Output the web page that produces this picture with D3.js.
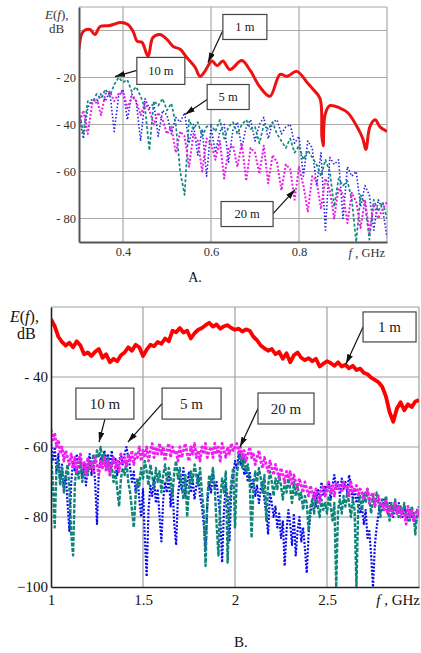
<!DOCTYPE html>
<html lang="en">
<head>
<meta charset="utf-8">
<title>E(f) spectra</title>
<script src="https://d3js.org/d3.v7.min.js"></script>
<style>
  body { margin: 0; background: #fff; }
  svg text { font-family: "Liberation Serif", "DejaVu Serif", serif; }
</style>
</head>
<body>
<script>
// ---- panel A : 0.3 .. 1.0 GHz, samples every 0.01 GHz ----
var freqA = d3.range(71).map(function(i) { return +(0.30 + i * 0.01).toFixed(2); });

var red1mA = [
  [0.300, -8], [0.309, -0.5], [0.325, 0.4], [0.336, -1.7], [0.348, 1.7], [0.370, 2.1],
  [0.382, 2.8], [0.393, 3.4], [0.411, 2.6], [0.423, -0.4], [0.432, -4.5], [0.443, -5],
  [0.457, -11], [0.468, -3], [0.484, -1.7], [0.500, -3.8], [0.514, -6.8], [0.530, -8],
  [0.545, -11.5], [0.564, -15.7], [0.575, -19.5], [0.586, -17.4], [0.602, -13], [0.614, -15],
  [0.627, -13], [0.643, -16.6], [0.670, -12.8], [0.689, -17], [0.711, -24], [0.734, -28],
  [0.757, -18.7], [0.773, -19.5], [0.795, -17.4], [0.818, -22], [0.832, -25], [0.848, -29],
  [0.852, -45], [0.855, -49], [0.859, -36], [0.870, -32], [0.893, -33], [0.911, -35],
  [0.932, -41], [0.945, -46], [0.952, -50.6], [0.961, -41], [0.973, -38], [0.984, -41],
  [1.000, -43]
];
var teal10mA = [
  -34, -44, -30, -31, -27, -29, -25, -28, -23, -20,
  -22, -21, -26, -24, -28, -33, -51, -30, -32, -29,
  -34, -31, -40, -60, -70, -38, -42, -39, -45, -41,
  -40, -43, -38, -46, -41, -39, -44, -40, -38, -42,
  -41, -48, -40, -42, -39, -44, -47, -50, -46, -52,
  -49, -55, -51, -54, -57, -62, -55, -60, -75, -63,
  -66, -64, -72, -90, -70, -74, -89, -72, -77, -73,
  -80
];
var blue5mA = [
  -36, -46, -33, -29, -31, -27, -30, -26, -43, -28,
  -25, -38, -27, -30, -47, -29, -33, -31, -45, -34,
  -36, -44, -37, -39, -35, -48, -40, -53, -42, -62,
  -41, -52, -43, -40, -56, -42, -39, -50, -41, -38,
  -47, -40, -37, -46, -39, -38, -44, -41, -40, -48,
  -45, -62, -47, -50, -66, -52, -85, -54, -57, -55,
  -80, -58, -62, -60, -75, -66, -70, -85, -72, -76,
  -88
];
var mag20mA = [
  -40, -34, -44, -31, -29, -36, -27, -26, -30, -27,
  -26, -33, -28, -30, -36, -31, -34, -40, -35, -38,
  -44, -41, -52, -43, -45, -58, -44, -47, -60, -46,
  -48, -55, -47, -63, -50, -49, -58, -48, -64, -50,
  -52, -61, -49, -65, -53, -56, -68, -57, -59, -72,
  -58, -66, -77, -62, -64, -76, -63, -68, -80, -67,
  -70, -82, -69, -73, -84, -72, -86, -74, -80, -76,
  -73
];
var xTicksA = [0.4, 0.6, 0.8];
var xLabelsA = ["0.4", "0.6", "0.8"];
var yTicksA = [-20, -40, -60, -80];
var yLabelsA = ["- 20", "- 40", "- 60", "- 80"];
var yGridA = [0, -20, -40, -60, -80];

// ---- panel B : 1 .. 3 GHz ----
var freqB = d3.range(201).map(function(i) { return +(1 + i * 0.01).toFixed(2); });
var freqRedB = d3.range(101).map(function(i) { return +(1 + i * 0.02).toFixed(2); });

var red1mB = [
  -23.5, -25.5, -28.5, -30.0, -31.0, -30.2, -31.5, -29.8, -31.0, -33.5,
  -33.0, -34.0, -32.8, -32.0, -34.5, -33.5, -35.8, -34.8, -35.5, -33.8,
  -33.0, -31.5, -32.5, -30.8, -31.5, -34.0, -32.2, -30.8, -31.2, -30.0,
  -30.5, -29.0, -29.8, -26.8, -27.2, -26.0, -27.3, -26.8, -29.0, -27.5,
  -26.5, -26.0, -25.2, -24.5, -25.6, -25.0, -26.2, -25.5, -25.2, -26.0,
  -26.5, -26.2, -27.0, -26.4, -26.8, -28.5, -29.5, -31.0, -31.8, -32.5,
  -32.0, -33.5, -32.8, -34.8, -33.2, -35.8, -33.8, -33.0, -34.5, -35.2,
  -34.6, -35.5, -34.8, -37.0, -36.2, -35.5, -36.0, -36.8, -35.8, -37.0,
  -36.5, -37.5, -36.8, -38.0, -37.6, -38.8, -39.2, -40.2, -40.8, -41.5,
  -42.8, -45.5, -50.0, -52.8, -49.0, -47.2, -49.5, -47.8, -48.6, -47.0,
  -46.6
];
var mag20mB = [
  -55, -58, -56, -60, -58, -62, -60, -64, -61, -63,
  -65, -62, -66, -63, -67, -64, -62, -66, -64, -68,
  -63, -66, -64, -67, -63, -65, -68, -64, -66, -63,
  -67, -64, -68, -65, -63, -66, -64, -67, -62, -65,
  -63, -66, -62, -64, -61, -65, -62, -63, -60, -64,
  -61, -63, -60, -64, -61, -59, -63, -60, -62, -59,
  -62, -60, -64, -61, -59, -63, -60, -62, -61, -64,
  -60, -63, -61, -59, -62, -64, -60, -62, -59, -63,
  -61, -64, -60, -62, -59, -63, -61, -60, -63, -59,
  -62, -60, -64, -59, -61, -63, -60, -62, -59, -61,
  -60, -59, -62, -60, -63, -61, -64, -62, -60, -63,
  -62, -65, -63, -61, -64, -66, -63, -65, -67, -64,
  -66, -68, -65, -67, -69, -66, -68, -70, -67, -69,
  -67, -71, -68, -70, -72, -69, -71, -73, -70, -72,
  -74, -71, -73, -75, -72, -74, -76, -72, -71, -74,
  -72, -70, -73, -71, -74, -70, -72, -71, -73, -70,
  -72, -71, -74, -70, -73, -72, -71, -74, -72, -73,
  -75, -73, -72, -76, -74, -73, -77, -75, -74, -77,
  -76, -78, -75, -79, -77, -80, -78, -76, -79, -77,
  -80, -78, -79, -82, -77, -80, -78, -81, -79, -78,
  -80
];
var teal10mB = [
  -62, -70, -83, -66, -64, -71, -66, -73, -68, -65,
  -72, -85, -91, -70, -66, -69, -64, -70, -67, -65,
  -68, -64, -66, -62, -65, -61, -63, -60, -64, -62,
  -66, -63, -68, -65, -70, -67, -72, -77, -69, -66,
  -68, -64, -70, -73, -78, -83, -74, -69, -71, -66,
  -69, -64, -67, -71, -65, -68, -72, -66, -70, -67,
  -73, -68, -65, -70, -66, -69, -74, -67, -64, -69,
  -66, -71, -75, -68, -80, -72, -67, -70, -65, -68,
  -71, -66, -73, -78, -94, -74, -68, -70, -66, -72,
  -82, -91, -75, -69, -73, -67, -93, -76, -70, -66,
  -83, -68, -64, -62, -66, -63, -67, -65, -70, -86,
  -72, -67, -70, -66, -69, -73, -68, -81, -71, -67,
  -70, -74, -69, -72, -68, -71, -75, -70, -73, -69,
  -72, -76, -70, -74, -71, -75, -73, -78, -74, -76,
  -84, -77, -75, -79, -74, -77, -80, -75, -78, -76,
  -79, -74, -77, -81, -76, -100, -78, -75, -79, -74,
  -77, -73, -76, -80, -75, -78, -100, -76, -74, -78,
  -73, -76, -72, -75, -79, -74, -77, -73, -76, -80,
  -75, -78, -74, -77, -81, -76, -79, -75, -78, -80,
  -77, -79, -76, -80, -78, -81, -77, -79, -85, -78,
  -77
];
var blue5mB = [
  -58, -64, -60, -67, -62, -70, -65, -72, -68, -76,
  -84, -70, -64, -67, -62, -66, -63, -69, -65, -71,
  -66, -62, -68, -64, -70, -82, -67, -63, -65, -61,
  -64, -62, -66, -61, -65, -63, -68, -64, -62, -65,
  -62, -60, -63, -66, -70, -67, -73, -69, -75, -80,
  -72, -86, -97, -78, -71, -74, -69, -76, -72, -80,
  -87, -75, -70, -73, -68, -77, -71, -82, -88, -74,
  -69, -72, -66, -74, -70, -67, -73, -69, -75, -71,
  -68, -74, -77, -82, -89, -76, -70, -73, -67, -72,
  -70, -75, -80, -93, -78, -71, -74, -87, -72, -68,
  -64, -66, -62, -65, -63, -68, -66, -70, -67, -72,
  -69, -74, -71, -76, -72, -70, -75, -79, -85, -73,
  -76, -80, -77, -83, -79, -86, -81, -94, -84, -78,
  -82, -88, -79, -91, -84, -80, -87, -83, -89, -96,
  -85, -79, -76, -73, -77, -72, -75, -70, -74, -71,
  -73, -70, -75, -71, -68, -72, -70, -74, -69, -72,
  -70, -73, -68, -71, -75, -72, -76, -74, -79, -77,
  -82, -78, -86, -84, -91, -100, -88, -83, -79, -76,
  -78, -75, -77, -79, -76, -78, -80, -77, -79, -76,
  -78, -80, -77, -79, -81, -78, -80, -79, -82, -80,
  -79
];
var xTicksB = [1, 1.5, 2, 2.5];
var xLabelsB = ["1", "1.5", "2", "2.5"];
var yTicksB = [-40, -60, -80, -100];
var yLabelsB = ["- 40", "- 60", "- 80", "\u2212100"];
var yGridB = [-40, -60, -80];

var W = 421, H = 653;
var svg = d3.select("body").append("svg").attr("width", W).attr("height", H);

var defs = svg.append("defs");
defs.append("marker")
    .attr("id", "head")
    .attr("viewBox", "0 0 10 6")
    .attr("refX", 10).attr("refY", 3)
    .attr("markerWidth", 10).attr("markerHeight", 6)
    .attr("markerUnits", "userSpaceOnUse")
    .attr("orient", "auto")
  .append("path")
    .attr("d", "M0,0L10,3L0,6Z")
    .attr("fill", "#111");

function drawPanel(p) {
  var x = d3.scaleLinear().domain(p.xDomain).range([p.left, p.right]);
  var y = d3.scaleLinear().domain(p.yDomain).range([p.bottom, p.top]);
  var g = svg.append("g");

  defs.append("clipPath").attr("id", p.id + "clip")
    .append("rect")
      .attr("x", p.left).attr("y", p.top - 2)
      .attr("width", p.right - p.left).attr("height", p.bottom - p.top + 4);

  // grid
  g.selectAll(".vg").data(p.xGrid).enter().append("line")
      .attr("x1", function(d) { return x(d); }).attr("x2", function(d) { return x(d); })
      .attr("y1", p.top).attr("y2", p.bottom)
      .attr("stroke", p.gridColor).attr("stroke-width", 1.2);
  g.selectAll(".hg").data(p.yGrid).enter().append("line")
      .attr("x1", p.left).attr("x2", p.right)
      .attr("y1", function(d) { return y(d); }).attr("y2", function(d) { return y(d); })
      .attr("stroke", p.gridColor).attr("stroke-width", 1.2);

  // top / right frame
  g.append("line").attr("x1", p.left).attr("x2", p.right).attr("y1", p.top).attr("y2", p.top)
      .attr("stroke", p.gridColor).attr("stroke-width", 1.2);
  g.append("line").attr("x1", p.right).attr("x2", p.right).attr("y1", p.top).attr("y2", p.bottom)
      .attr("stroke", p.gridColor).attr("stroke-width", 1.2);

  // series
  var plot = g.append("g").attr("clip-path", "url(#" + p.id + "clip)");
  p.series.forEach(function(s) {
    var line = d3.line()
        .x(function(d) { return x(d[0]); })
        .y(function(d) { return y(d[1]); })
        .curve(s.curve || d3.curveLinear);
    plot.append("path")
        .datum(s.data)
        .attr("d", line)
        .attr("fill", "none")
        .attr("stroke", s.color)
        .attr("stroke-width", s.width)
        .attr("stroke-dasharray", s.dash || null)
        .attr("stroke-linejoin", "round");
  });

  // axes
  var ax = g.append("g").attr("transform", "translate(0," + p.bottom + ")")
      .call(d3.axisBottom(x).tickValues(p.xTicks)
        .tickFormat(function(d, i) { return p.xLabels[i]; })
        .tickSize(0).tickPadding(p.xPad));
  var ay = g.append("g").attr("transform", "translate(" + p.left + ",0)")
      .call(d3.axisLeft(y).tickValues(p.yTicks)
        .tickFormat(function(d, i) { return p.yLabels[i]; })
        .tickSize(0).tickPadding(p.yPad));
  [ax, ay].forEach(function(a) {
    a.select(".domain").attr("stroke", p.axisColor).attr("stroke-width", p.axisWidth);
    a.selectAll("text").attr("font-family", "Liberation Serif, serif")
        .attr("font-size", p.fontSize).attr("fill", p.textColor);
  });

  // axis titles
  var xt = g.append("text")
      .attr("x", p.right - p.xTitleShift).attr("y", p.xTitleY)
      .attr("text-anchor", "end").attr("font-size", p.fontSize).attr("fill", p.textColor);
  xt.append("tspan").attr("font-style", "italic").text("f");
  xt.append("tspan").text(" , GHz");

  var yt = g.append("text")
      .attr("x", p.yTitleX).attr("y", p.yTitleY)
      .attr("font-size", p.titleSize).attr("fill", p.textColor);
  yt.append("tspan").attr("font-style", "italic").text("E");
  yt.append("tspan").text("(");
  yt.append("tspan").attr("font-style", "italic").text("f");
  yt.append("tspan").text("),");
  g.append("text")
      .attr("x", p.yTitleX + p.dbShift).attr("y", p.yTitleY + p.titleSize + 1)
      .attr("font-size", p.titleSize).attr("fill", p.textColor)
      .text("dB");

  // panel caption
  g.append("text")
      .attr("x", p.captionX).attr("y", p.captionY)
      .attr("text-anchor", "middle").attr("font-size", p.captionSize).attr("fill", "#111")
      .text(p.caption);

  // call-outs
  p.notes.forEach(function(n) {
    var cx = x(n.at[0]), cy = y(n.at[1]);
    var bx = cx - n.w / 2, by = cy - n.h / 2;
    g.append("line")
        .attr("x1", bx + n.anchor[0] * n.w).attr("y1", by + n.anchor[1] * n.h)
        .attr("x2", x(n.tip[0])).attr("y2", y(n.tip[1]))
        .attr("stroke", "#111").attr("stroke-width", 1.2)
        .attr("marker-end", "url(#head)");
    g.append("rect")
        .attr("x", bx).attr("y", by).attr("width", n.w).attr("height", n.h)
        .attr("fill", "#fff").attr("stroke", "#444").attr("stroke-width", 1.2);
    g.append("text")
        .attr("x", cx).attr("y", cy).attr("dy", "0.35em")
        .attr("text-anchor", "middle").attr("font-size", p.noteSize).attr("fill", "#222")
        .text(n.label);
  });
}

drawPanel({
  id: "A",
  left: 79, right: 387, top: 7, bottom: 242,
  xDomain: [0.3, 1.0], yDomain: [-90, 10],
  xGrid: xTicksA, yGrid: yGridA,
  xTicks: xTicksA, xLabels: xLabelsA, yTicks: yTicksA, yLabels: yLabelsA,
  xPad: 5, yPad: 3, fontSize: 12.5, titleSize: 13, noteSize: 12.5, captionSize: 14,
  gridColor: "#a8a8a8", axisColor: "#555", axisWidth: 2, textColor: "#333",
  xTitleShift: 2, xTitleY: 257, yTitleX: 45, yTitleY: 19, dbShift: 4,
  caption: "A.", captionX: 195, captionY: 282,
  series: [
    { data: d3.zip(freqA, blue5mA), color: "#2424e0", width: 1.6, dash: "1.5,2" },
    { data: d3.zip(freqA, teal10mA), color: "#138a80", width: 1.7, dash: "3,2" },
    { data: d3.zip(freqA, mag20mA), color: "#e81ee8", width: 2, dash: "2,1.8" },
    { data: red1mA, color: "#ee1111", width: 3, curve: d3.curveCatmullRom }
  ],
  notes: [
    { label: "10 m", at: [0.486, -17.2], w: 48, h: 27, tip: [0.382, -19.6], anchor: [0, 0.48] },
    { label: "1 m", at: [0.677, 1.5], w: 44, h: 25, tip: [0.593, -13.6], anchor: [0, 0.64] },
    { label: "5 m", at: [0.639, -28.3], w: 42, h: 25, tip: [0.541, -35.7], anchor: [0, 0.6] },
    { label: "20 m", at: [0.682, -78.1], w: 52, h: 25, tip: [0.791, -67.7], anchor: [1, 0.48] }
  ]
});

drawPanel({
  id: "B",
  left: 51, right: 419, top: 307, bottom: 587,
  xDomain: [1, 3], yDomain: [-100, -20],
  xGrid: [1.5, 2, 2.5], yGrid: yGridB,
  xTicks: xTicksB, xLabels: xLabelsB, yTicks: yTicksB, yLabels: yLabelsB,
  xPad: 7, yPad: 3, fontSize: 15, titleSize: 16, noteSize: 15, captionSize: 15,
  gridColor: "#a0a0a0", axisColor: "#222", axisWidth: 1.6, textColor: "#111",
  xTitleShift: -1, xTitleY: 605, yTitleX: 10, yTitleY: 322, dbShift: 7,
  caption: "B.", captionX: 241, captionY: 647,
  series: [
    { data: d3.zip(freqB, blue5mB), color: "#0a0af0", width: 2.2, dash: "2,1.6" },
    { data: d3.zip(freqB, teal10mB), color: "#0f857a", width: 2.4, dash: "4,1.5" },
    { data: d3.zip(freqB, mag20mB), color: "#f01ef0", width: 2.8, dash: "3,1.5" },
    { data: d3.zip(freqRedB, red1mB), color: "#ff0000", width: 3.8 }
  ],
  notes: [
    { label: "10 m", at: [1.293, -47.6], w: 58, h: 31, tip: [1.261, -58.6], anchor: [0.5, 1] },
    { label: "5 m", at: [1.764, -47.6], w: 59, h: 31, tip: [1.418, -58.6], anchor: [0, 0.5] },
    { label: "20 m", at: [2.277, -49], w: 56, h: 31, tip: [2.027, -60], anchor: [0, 0.5] },
    { label: "1 m", at: [2.840, -25.7], w: 53, h: 30, tip: [2.603, -36.3], anchor: [0, 0.5] }
  ]
});
</script>
</body>
</html>
